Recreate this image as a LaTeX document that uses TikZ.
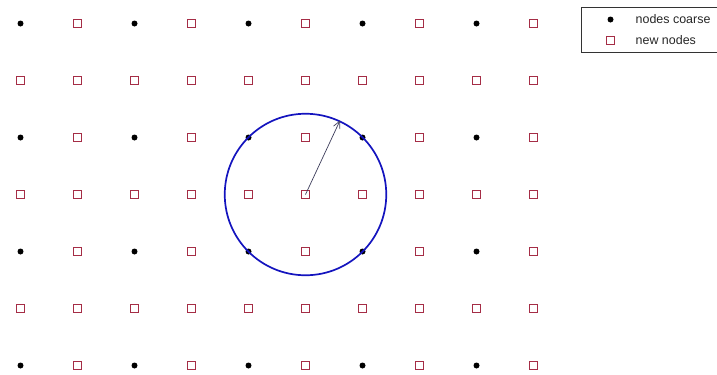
\documentclass[tikz,border=0pt]{standalone}
\usepackage{fontspec}
\setmainfont{Liberation Sans}
\usetikzlibrary{arrows.meta}
\definecolor{sqred}{RGB}{165,45,70}
\definecolor{cblue}{RGB}{20,20,190}
\definecolor{arrgray}{RGB}{60,60,90}
\tikzset{
  gridpt/.style={rectangle,inner sep=0pt,minimum size=8bp,outer sep=0pt},
  sqline/.style={draw=sqred,line width=1bp},
  legtext/.style={anchor=west,inner sep=0pt,font=\fontsize{12.5}{14}\selectfont,text=black!85},
}
\begin{document}
\begin{tikzpicture}[x=1bp,y=-1bp]
\useasboundingbox (0,0) rectangle (717,374);
% grid positions (all nodes)
\foreach \x [count=\i from 0] in {20.5,77.5,134.5,191.5,248.5,305.5,362.5,419.5,476.5,533.5}{
  \foreach \y [count=\j from 0] in {23.5,80.5,137.5,194.5,251.5,308.5,365.5}{
    \node[gridpt] (g-\i-\j) at (\x,\y) {};
  }
}
% legend markers
\node[draw=black!80,line width=1bp,rectangle,anchor=north west,minimum width=150bp,minimum height=44.5bp,inner sep=0pt] (leg) at (581,7.3) {};
\node[gridpt] (l1) at (610.5,19.5) {};
\node[gridpt] (l2) at (610.5,40.5) {};
\node[legtext] (t1) at (635.5,19.5) {nodes coarse};
\node[legtext] (t2) at (635.5,40.5) {new nodes};
% new nodes: red squares, one path
\path[sqline]
  \foreach \i in {1,3,5,7,9}{\foreach \j in {0,2,4,6}{(g-\i-\j.south west) rectangle (g-\i-\j.north east)}}
  \foreach \i in {0,...,9}{\foreach \j in {1,3,5}{(g-\i-\j.south west) rectangle (g-\i-\j.north east)}}
  (l2.south west) rectangle (l2.north east);
% coarse nodes: black dots, one path
\fill[black]
  \foreach \i in {0,2,4,6,8}{\foreach \j in {0,2,4,6}{(g-\i-\j.center) circle[radius=3bp]}}
  (l1.center) circle[radius=3bp];
% circle
\node[circle,draw=cblue,line width=1.7bp,inner sep=0pt,minimum size=161.5bp] (circ) at (g-5-3.center) {};
\draw[arrgray,line width=0.7bp,-{Straight Barb[length=7bp,width=7bp]}] (g-5-3.center) -- (circ.65);
\end{tikzpicture}
\end{document}
